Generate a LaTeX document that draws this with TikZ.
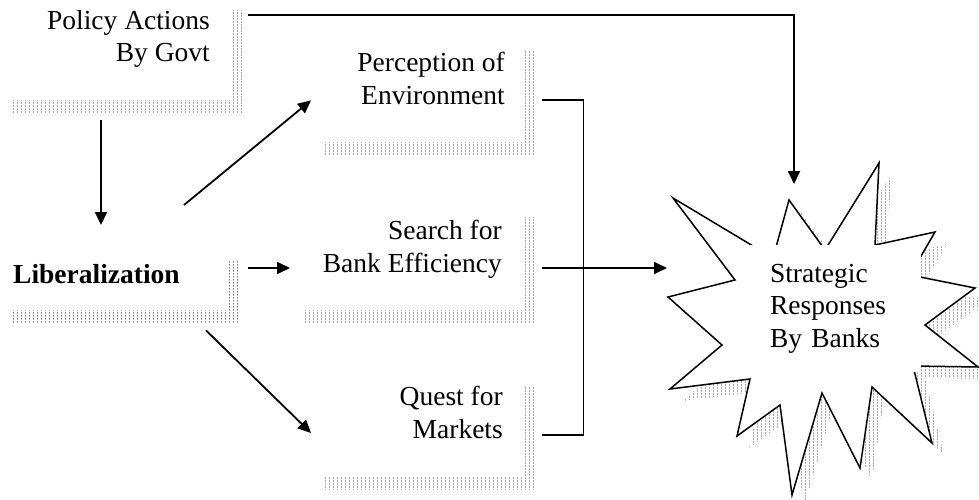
\documentclass[tikz,border=0pt]{standalone}
\usepackage{fontspec}
\setmainfont{Liberation Serif}
\usetikzlibrary{arrows.meta,patterns,calc,shadows}

\pgfdeclarepatternformonly{hatchdots}{\pgfpointorigin}{\pgfpoint{4pt}{3pt}}{\pgfpoint{4pt}{3pt}}{%
  \pgfpathrectangle{\pgfpoint{1.5pt}{0.6pt}}{\pgfpoint{0.8pt}{1.7pt}}\pgfusepath{fill}}

\tikzset{
  shadowfill/.style={pattern=hatchdots, pattern color=gray},
  panel/.style={rectangle, fill=white, inner sep=0pt, anchor=north west,
    general shadow={shadow xshift=12pt, shadow yshift=-12pt, shadowfill}},
  txt/.style={font=\fontsize{27.5}{32.5}\selectfont, inner sep=0pt},
  arr/.style={line width=1.8pt, -{Triangle[length=13pt,width=12pt]}},
  conn/.style={line width=1.8pt},
  starline/.style={line width=1.5pt, fill=white, line join=miter},
}

\begin{document}
\begin{tikzpicture}[x=1pt,y=-1pt]
\useasboundingbox (0,0) rectangle (979,500);

% boxes (invisible frames, visible shadows)
\node[panel, minimum width=232, minimum height=102] (pbox) at (-2,-2) {};
\node[panel, minimum width=230, minimum height=62] (lbox) at (-2,248) {};
\node[panel, minimum width=210, minimum height=104] (pcbox) at (313,38) {};
\node[panel, minimum width=230, minimum height=105] (sbox) at (293,205) {};
\node[panel, minimum width=210, minimum height=103] (qbox) at (313,374) {};

% texts
\node[txt, align=right, anchor=north east] (ptext) at (210,10.2) {Policy Actions\\By Govt};
\node[txt, anchor=base west, font=\fontsize{27.5}{32.5}\selectfont\bfseries] (ltext) at (13,283) {Liberalization};
\node[txt, align=right, anchor=north east] (pctext) at (505,52.2) {Perception of\\Environment};
\node[txt, align=right, anchor=north east] (stext) at (502,220.2) {Search for\\Bank Efficiency};
\node[txt, align=right, anchor=north east] (qtext) at (503,386.2) {Quest for\\Markets};

% star shadow
\begin{scope}[shift={(12,12)}]
\fill[shadowfill] (673,198) -- (773,258) -- (789,200) -- (825,250) -- (879,163) -- (875,245)
  -- (935,232) -- (910,275) -- (975,288) -- (925,325) -- (978,367) -- (913,366)
  -- (932,443) -- (872,387) -- (860,468) -- (822,393) -- (792,495) -- (780,405)
  -- (737,436) -- (750,379) -- (670,389) -- (722,345) -- (668,297) -- (735,280) -- cycle;
\end{scope}
% star
\draw[starline] (673,198) -- (773,258) -- (789,200) -- (825,250) -- (879,163) -- (875,245)
  -- (935,232) -- (910,275) -- (975,288) -- (925,325) -- (978,367) -- (913,366)
  -- (932,443) -- (872,387) -- (860,468) -- (822,393) -- (792,495) -- (780,405)
  -- (737,436) -- (750,379) -- (670,389) -- (722,345) -- (668,297) -- (735,280) -- cycle;
\coordinate (startop) at (789,200);
\coordinate (starleft) at (667,268);
\node[txt, fill=white, minimum width=179, minimum height=127, text width=123, align=left]
  (startext) at (831.5,308.5) {Strategic\\Responses\\By Banks};

% connectors
\draw[arr] ($(pbox.north east)+(18,17)$) -| ($(startop)+(5,-16)$);
\draw[arr] ($(pbox.south west)+(103,20)$) -- ($(lbox.north west)+(103,-23)$);
\draw[arr] ($(lbox.north west)+(186,-43)$) -- ($(pcbox.south west)+(-2,-42)$);
\draw[arr] ($(lbox.north east)+(20,20)$) -- ($(sbox.north west)+(-3,63)$);
\draw[arr] ($(lbox.south west)+(208,20)$) -- ($(qbox.north west)+(-2,59)$);
\draw[conn] ($(pcbox.north east)+(19,62)$) -- ++(41,0) |- ($(qbox.north east)+(19,61)$);
\draw[arr] ($(sbox.north east)+(19,63)$) -- (starleft);
\end{tikzpicture}
\end{document}
